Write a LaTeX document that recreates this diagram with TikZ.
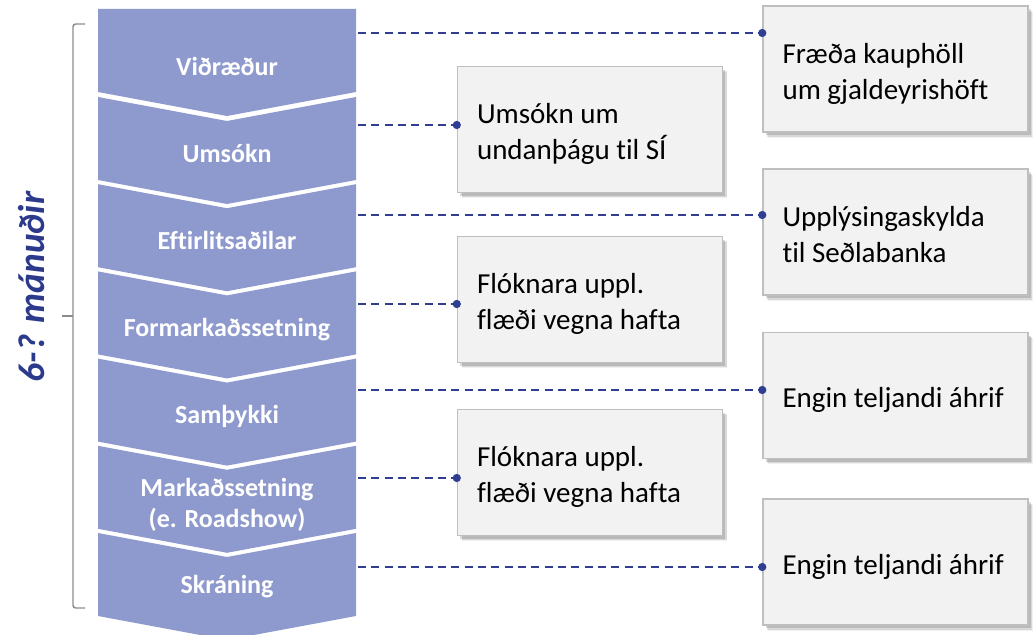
\documentclass[tikz,border=0pt]{standalone}
\usepackage{fontspec}
\setmainfont{Carlito}[Ligatures=NoCommon]
\usetikzlibrary{shadows}

\definecolor{chevfill}{RGB}{142,154,205}
\definecolor{linkblue}{RGB}{47,62,145}
\definecolor{spanblue}{RGB}{44,58,140}
\definecolor{boxfill}{RGB}{242,242,242}
\definecolor{boxline}{RGB}{191,191,191}
\definecolor{bracegray}{RGB}{140,140,140}

\begin{document}
\begin{tikzpicture}[x=0.75pt,y=-0.75pt,
  chev/.style={fill=chevfill,draw=none},
  chevlabel/.style={text=white,font=\fontsize{19.5pt}{23.25pt}\selectfont\bfseries,
    align=center,inner sep=0pt,text height=12.6pt,text depth=0pt},
  softshadow/.style={
    general shadow={shadow xshift=3.6pt,shadow yshift=-4.2pt,fill=black,opacity=0.06},
    general shadow={shadow xshift=3pt,shadow yshift=-3.5pt,fill=black,opacity=0.10},
    general shadow={shadow xshift=2.2pt,shadow yshift=-2.6pt,fill=black,opacity=0.14}},
  note/.style={rectangle,draw=boxline,line width=1.1pt,fill=boxfill,softshadow,
    minimum width=198.75pt,minimum height=94.5pt,inner sep=0pt},
  notetext/.style={anchor=west,inner sep=0pt,align=left,
    font=\fontsize{21.75pt}{27pt}\selectfont,text depth=0pt},
  twoline/.style={text height=45pt},
  oneline/.style={text height=18.5pt},
  link/.style={linkblue,line width=1.5pt,dash pattern=on 6pt off 4pt},
  dot/.style={circle,fill=linkblue,draw=none,inner sep=0pt,minimum size=6.2pt},
  brace/.style={bracegray,line width=1.1pt,rounded corners=2pt}
]
\clip (0,0) rectangle (1036,635);

% process chevrons
\fill[chev] (98,9) -- (356,9) -- (356,92) -- (227,116) -- (98,92) -- cycle;
\foreach \t in {97,184.2,271.4,358.6,445.8,533}{
  \fill[chev] (98,\t) -- (227,\t+24) -- (356,\t) -- (356,\t+83)
    -- (227,\t+107) -- (98,\t+83) -- cycle;
}

% stage labels
\node[chevlabel] (c1) at (227,67) {Viðræður};
\node[chevlabel] (c2) at (227,154) {Umsókn};
\node[chevlabel] (c3) at (227,241) {Eftirlitsaðilar};
\node[chevlabel] (c4) at (227,328) {Formarkaðssetning};
\node[chevlabel] (c5) at (227,415) {Samþykki};
\node[chevlabel,text height=35.85pt] (c6) at (227,503.5) {Markaðssetning\\(e. Roadshow)};
\node[chevlabel] (c7) at (227,585) {Skráning};

% duration brace
\draw[brace] (85,24) -- (73,24) -- (73,608) -- (85,608);
\draw[brace] (73,316) -- (62,316);
\node[rotate=90,text=spanblue,font=\fontsize{28pt}{34pt}\selectfont\bfseries\itshape,
  inner sep=0pt,text height=18pt,text depth=0pt] (span) at (32,287) {6-? mánuðir};

% effect boxes, right column
\node[note] (r1) at (895.5,69) {};
\node[note] (r2) at (895.5,232) {};
\node[note] (r3) at (895.5,395.5) {};
\node[note] (r4) at (895.5,562) {};
% effect boxes, middle column
\node[note] (m1) at (590,129.5) {};
\node[note] (m2) at (590,299.5) {};
\node[note] (m3) at (590,472.5) {};

% box texts
\node[notetext,twoline] (r1t) at ([xshift=15pt]r1.west) {Fræða kauphöll\\um gjaldeyrishöft};
\node[notetext,twoline] (r2t) at ([xshift=15pt]r2.west) {Upplýsingaskylda\\til Seðlabanka};
\node[notetext,oneline] (r3t) at ([xshift=15pt]r3.west) {Engin teljandi áhrif};
\node[notetext,oneline] (r4t) at ([xshift=15pt]r4.west) {Engin teljandi áhrif};
\node[notetext,twoline] (m1t) at ([xshift=15pt]m1.west) {Umsókn um\\undanþágu til SÍ};
\node[notetext,twoline] (m2t) at ([xshift=15pt]m2.west) {Flóknara uppl.\\flæði vegna hafta};
\node[notetext,twoline] (m3t) at ([xshift=15pt]m3.west) {Flóknara uppl.\\flæði vegna hafta};

% dashed leaders from the stages
\coordinate (s1) at (358,33);
\coordinate (s2) at (358,125);
\coordinate (s3) at (358,215);
\coordinate (s4) at (358,304);
\coordinate (s5) at (358,390);
\coordinate (s6) at (358,478);
\coordinate (s7) at (358,567);
\draw[link] (s1) -- (s1 -| r1.west) node[dot] {};
\draw[link] (s2) -- (s2 -| m1.west) node[dot] {};
\draw[link] (s3) -- (s3 -| r2.west) node[dot] {};
\draw[link] (s4) -- (s4 -| m2.west) node[dot] {};
\draw[link] (s5) -- (s5 -| r3.west) node[dot] {};
\draw[link] (s6) -- (s6 -| m3.west) node[dot] {};
\draw[link] (s7) -- (s7 -| r4.west) node[dot] {};
\end{tikzpicture}
\end{document}
